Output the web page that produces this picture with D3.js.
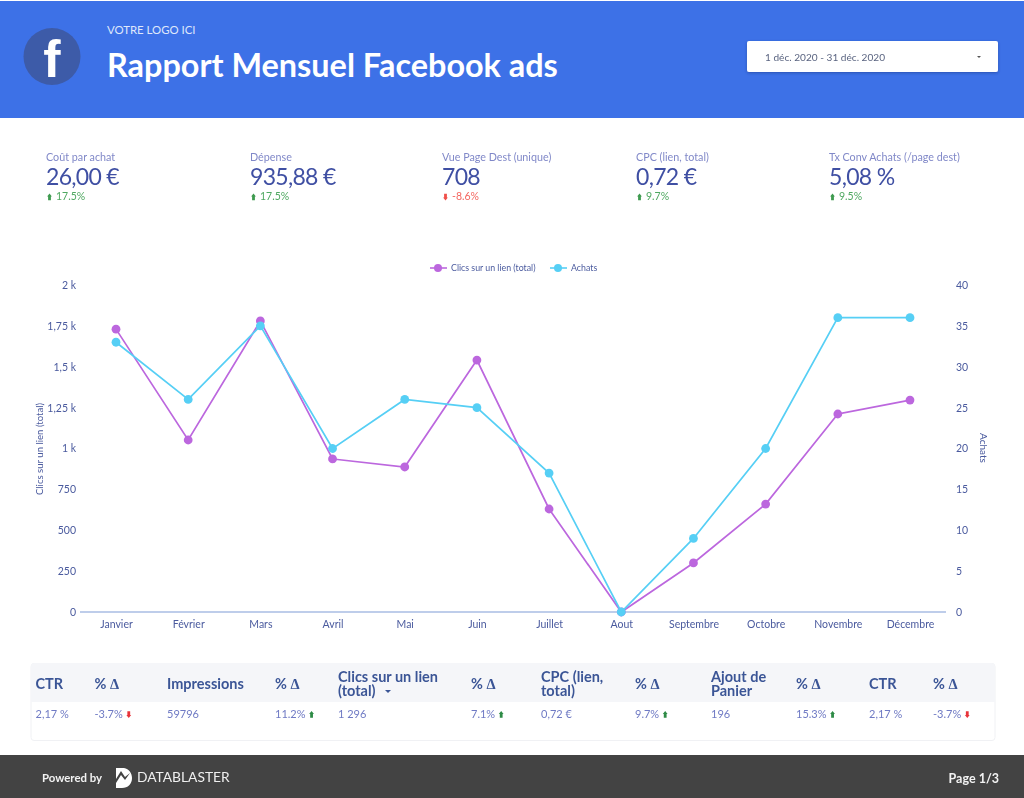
<!DOCTYPE html>
<html><head><meta charset="utf-8">
<script src="https://cdn.jsdelivr.net/npm/d3@7/dist/d3.min.js"></script>
<style>
html,body{margin:0;padding:0;background:#fff;overflow:hidden}
svg{display:block;font-family:Lato,sans-serif;filter:blur(0.35px)}
</style></head><body><svg id="c" width="1024" height="798"></svg>
<script>
const months=["Janvier","Février","Mars","Avril","Mai","Juin","Juillet","Aout","Septembre","Octobre","Novembre","Décembre"];
const clics=[1730,1052,1780,936,887,1541,630,0,300,660,1211,1296];
const achats=[33,26,35,20,26,25,17,0,9,20,36,36];
const leftTicks=[0,250,500,750,1000,1250,1500,1750,2000];
const leftLabels=["0","250","500","750","1 k","1,25 k","1,5 k","1,75 k","2 k"];
const rightTicks=[0,5,10,15,20,25,30,35,40];
const kpiLabels=["Coût par achat","Dépense","Vue Page Dest (unique)","CPC (lien, total)","Tx Conv Achats (/page dest)"];
const kpiValues=["26,00 €","935,88 €","708","0,72 €","5,08 %"];
const kpiDeltas=[17.5,17.5,-8.6,9.7,9.5];
const kpiX=[46,250,442,636,829];
const tableHeads=[["CTR"],["% Δ"],["Impressions"],["% Δ"],["Clics sur un lien","(total)"],["% Δ"],["CPC (lien,","total)"],["% Δ"],["Ajout de","Panier"],["% Δ"],["CTR"],["% Δ"]];
const tableCells=["2,17 %","-3.7%","59796","11.2%","1 296","7.1%","0,72 €","9.7%","196","15.3%","2,17 %","-3.7%"];
const tableArrows=[null,-1,null,1,null,1,null,1,null,1,null,-1];
const tableX=[35.5,94.5,167,275,338,471,541,635,711,796,869,933];

const NAVY="#3f4fa3",TXT="#4a5a9e",LIGHT="#8088c8",PURPLE="#bc67de",CYAN="#56cff5",GREEN="#3e9b4f",RED="#f0504a",HEAD="#3b5596";
const svg=d3.select("#c");
const text=(x,y,s,size,fill,opt={})=>svg.append("text").attr("x",x).attr("y",y).text(s)
  .attr("font-size",size).attr("fill",fill).attr("font-weight",opt.w||400).attr("text-anchor",opt.a||"start");
function arrow(cx,cy,dir,col){
  const s=dir;
  svg.append("path").attr("fill",col).attr("d",d3.line()([[cx,cy-3.5*s],[cx+2.4,cy-0.5*s],[cx+1.4,cy-0.5*s],[cx+1.4,cy+3.2*s],[cx-1.4,cy+3.2*s],[cx-1.4,cy-0.5*s],[cx-2.4,cy-0.5*s]])+"Z");
}

// header
svg.append("rect").attr("x",0).attr("y",1).attr("width",1024).attr("height",117).attr("fill","#3d71e7");
svg.append("circle").attr("cx",52).attr("cy",56.5).attr("r",28.5).attr("fill","#3d5ba8");
text(52,77,"f",52,"#fff",{w:700,a:"middle"}).style("font-family","'Liberation Sans',sans-serif");
text(107,34,"VOTRE LOGO ICI",11.4,"#dfe7fb");
text(107,76.5,"Rapport Mensuel Facebook ads",32.4,"#fff",{w:700});
const defs=svg.append("defs");
const f=defs.append("filter").attr("id","sh").attr("x","-5%").attr("y","-20%").attr("width","110%").attr("height","150%");
f.append("feDropShadow").attr("dx",0).attr("dy",1).attr("stdDeviation",1.5).attr("flood-color","#1d3c8a").attr("flood-opacity",.6);
svg.append("rect").attr("x",747).attr("y",41).attr("width",251).attr("height",31).attr("rx",2).attr("fill","#fff").attr("filter","url(#sh)");
text(765,60.5,"1 déc. 2020 - 31 déc. 2020",10.1,"#5a6480");
svg.append("path").attr("d",d3.line()([[977,56],[981,56],[979,58]])).attr("fill","#555");

// KPIs
kpiLabels.forEach((l,i)=>{
  const x=kpiX[i],d=kpiDeltas[i];
  text(x,161,l,10.75,LIGHT);
  text(x,184.5,kpiValues[i],23,NAVY).attr("letter-spacing",-0.7);
  arrow(x+3.5,197,d>=0?1:-1,d>=0?GREEN:RED);
  text(x+10,200,d.toFixed(1)+"%",10.5,d>=0?"#4fa861":"#f4665f");
});

// chart
const x=d3.scalePoint().domain(months).range([116,910]);
const yL=d3.scaleLinear().domain([0,2000]).range([612,285]);
const yR=d3.scaleLinear().domain([0,40]).range([612,285]);
const gL=svg.append("g").attr("transform","translate(80,0)").call(
  d3.axisLeft(yL).tickValues(leftTicks).tickFormat((d,i)=>leftLabels[i]).tickSize(0).tickPadding(4));
const gR=svg.append("g").attr("transform","translate(946,0)").call(
  d3.axisRight(yR).tickValues(rightTicks).tickSize(0).tickPadding(10));
const gX=svg.append("g").attr("transform","translate(0,612)").call(
  d3.axisBottom(x).tickSize(0).tickPadding(9));
[gL,gR,gX].forEach(g=>{g.selectAll("text").attr("font-size",10.5).attr("fill",TXT).style("font-family","Lato,sans-serif");});
gL.select(".domain").remove();gR.select(".domain").remove();
gX.select(".domain").remove();
svg.append("line").attr("x1",80).attr("x2",946).attr("y1",612).attr("y2",612).attr("stroke","#7f9bd6").attr("stroke-width",1.2);

const series=[[clics,yL,PURPLE],[achats,yR,CYAN]];
series.forEach(([vals,y,col])=>{
  svg.append("path").attr("fill","none").attr("stroke",col).attr("stroke-width",1.7)
    .attr("d",d3.line().x((d,i)=>x(months[i])).y(d=>y(d))(vals));
  svg.selectAll(null).data(vals).enter().append("circle")
    .attr("cx",(d,i)=>x(months[i])).attr("cy",d=>y(d)).attr("r",4.4).attr("fill",col);
});
// legend
[[430,447,438,"Clics sur un lien (total)",451,PURPLE],[550,567,558,"Achats",571,CYAN]].forEach(([a,b,c,t,tx,col])=>{
  svg.append("line").attr("x1",a).attr("x2",b).attr("y1",268).attr("y2",268).attr("stroke",col).attr("stroke-width",1.6);
  svg.append("circle").attr("cx",c).attr("cy",268).attr("r",4).attr("fill",col);
  text(tx,271,t,8.8,TXT);
});
svg.append("text").attr("transform","translate(42.5,449) rotate(-90)").attr("text-anchor","middle").attr("font-size",9.6).attr("fill",TXT).text("Clics sur un lien (total)");
svg.append("text").attr("transform","translate(979.5,448) rotate(90)").attr("text-anchor","middle").attr("font-size",10).attr("fill",TXT).text("Achats");

// table
svg.append("rect").attr("x",31).attr("y",663.5).attr("width",964).attr("height",77).attr("rx",3).attr("fill","#fff").attr("stroke","#f0f1f4");
svg.append("path").attr("fill","#f5f6f9").attr("d","M31 702V666a3 3 0 0 1 3-3H992a3 3 0 0 1 3 3V702Z");
tableHeads.forEach((h,i)=>{
  const X=tableX[i];
  if(h.length===1){
    if(h[0]==="% Δ"){
      const t=text(X,688.5,"% ",14.5,HEAD,{w:700});
      t.append("tspan").text("Δ").style("font-family","'Liberation Serif',serif");
    } else text(X,688.5,h[0],14.5,HEAD,{w:700});
  } else { text(X,681.5,h[0],14.5,HEAD,{w:700}); text(X,696,h[1],14.5,HEAD,{w:700}); }
  const t=text(X,717.5,tableCells[i],11,"#6f7ac4");
  if(tableArrows[i]) arrow(X+t.node().getComputedTextLength()+6,714.5,tableArrows[i],tableArrows[i]>0?"#2e8b46":"#e8343a");
});
svg.append("path").attr("fill",HEAD).attr("d",d3.line()([[385,690],[391,690],[388,693]])+"Z");

// footer
svg.append("rect").attr("x",0).attr("y",755).attr("width",1024).attr("height",43).attr("fill","#434343");
text(42,782,"Powered by",11.4,"#f2f2f2",{w:700});
svg.append("path").attr("fill","#fff").attr("fill-rule","evenodd").attr("d","M116 768H124C129 769 132 773 132 778C132 784 128 788 122 788H116V783L121 775L125 780L130 773L125 777L121 771L116 779Z");
text(137,782,"DATABLASTER",13.8,"#efefef");
text(999,783,"Page 1/3",12.5,"#f2f2f2",{w:700,a:"end"});
</script></body></html>
